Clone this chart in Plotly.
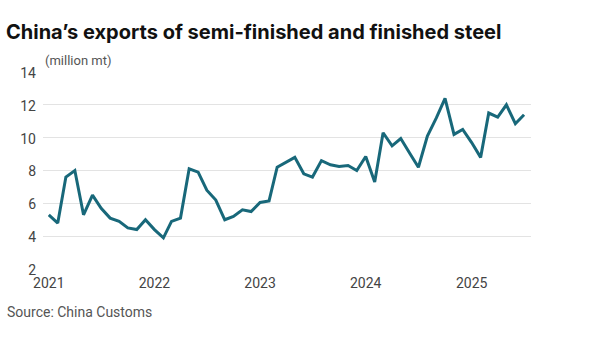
import plotly.graph_objects as go
import pandas as pd

months = pd.date_range("2021-01-01", "2025-07-01", freq="MS")
exports = [
    5.3, 4.8, 7.6, 8.0, 5.3, 6.5, 5.7, 5.1, 4.9, 4.5, 4.4, 5.0,
    4.4, 3.9, 4.9, 5.1, 8.1, 7.9, 6.8, 6.2, 5.0, 5.2, 5.6, 5.5,
    6.05, 6.15, 8.2, 8.5, 8.8, 7.8, 7.6, 8.6, 8.35, 8.25, 8.3, 8.0,
    8.85, 7.3, 10.3, 9.5, 9.95, 9.05, 8.2, 10.1, 11.2, 12.4, 10.2, 10.5,
    9.7, 8.8, 11.5, 11.25, 12.0, 10.85, 11.4,
]
year_ticks = ["2021-01-01", "2022-01-01", "2023-01-01", "2024-01-01", "2025-01-01"]
year_labels = ["2021", "2022", "2023", "2024", "2025"]
y_ticks = [2, 4, 6, 8, 10, 12, 14]

W, H = 600, 354
L, R, T, B = 43, 69, 72, 85

fig = go.Figure()
fig.add_trace(go.Scatter(
    x=months, y=exports, mode="lines",
    line=dict(color="#18687a", width=3),
    hoverinfo="skip",
))

fig.update_layout(
    width=W, height=H,
    margin=dict(l=L, r=R, t=T, b=B),
    paper_bgcolor="white", plot_bgcolor="white",
    showlegend=False,
    font=dict(family="Roboto, Arial, sans-serif", color="#444"),
    title=dict(
        text="China’s exports of semi-finished and finished steel",
        x=6 / W, xanchor="left", xref="container",
        y=1 - 32 / H, yanchor="middle", yref="container",
        font=dict(family="Inter, Roboto, sans-serif", size=20, color="#111", weight=700),
    ),
    xaxis=dict(
        range=["2020-12-12", "2025-07-25"],
        tickvals=year_ticks, ticktext=year_labels,
        showgrid=False, zeroline=False, showline=False,
        ticks="", tickfont=dict(size=14, color="#444"),
        ticklabelstandoff=4,
    ),
    yaxis=dict(
        range=[2, 14], tickvals=y_ticks,
        showgrid=True, gridcolor="#e3e3e3", gridwidth=1,
        zeroline=False, showline=False, ticks="",
        tickfont=dict(size=14, color="#444"),
        ticklabelstandoff=6,
        ticklabelshift=1,
    ),
    annotations=[
        dict(text="(million mt)", xref="paper", yref="paper", x=0, y=1,
             xanchor="left", yanchor="bottom", yshift=2, showarrow=False,
             font=dict(size=13, color="#555")),
        dict(text="Source: China Customs", xref="paper", yref="paper",
             x=-L / (W - L - R), xshift=5, y=0, yanchor="middle",
             yshift=-43, xanchor="left", showarrow=False,
             font=dict(size=14, color="#555")),
    ],
)

fig.write_html("out.html")
